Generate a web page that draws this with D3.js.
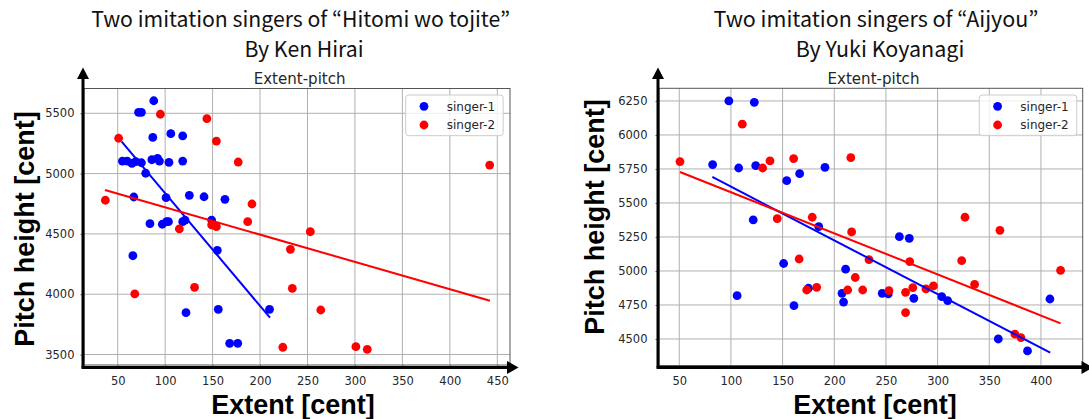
<!DOCTYPE html>
<html><head><meta charset="utf-8">
<script src="https://cdn.jsdelivr.net/npm/d3@7"></script>
<style>body{margin:0;background:#fff;} svg{display:block}</style>
</head><body><svg id="chart" width="1089" height="419"></svg>
<script>
// ---------------- data ----------------
const seriesNames = ["singer-1", "singer-2"];
const seriesColors = ["#0000ff", "#ff0000"];

// Left panel: "Hitomi wo tojite"
const titleL = ["Two imitation singers of \u201cHitomi wo tojite\u201d", "By Ken Hirai"];
const xTicksL = [50, 100, 150, 200, 250, 300, 350, 400, 450];
const yTicksL = [3500, 4000, 4500, 5000, 5500];
const s1ExtentL = [88, 72, 75, 87, 106, 118.5, 55, 60, 65, 69, 75, 86, 92, 94, 104, 118.5, 79.5, 67, 101, 125.5, 141, 163, 84, 97, 101.5, 103.5, 118.5, 121, 149, 155, 66, 122, 156, 210, 168, 176.5];
const s1PitchL  = [5604, 5508, 5508, 5300, 5331, 5312, 5104, 5104, 5085, 5100, 5090, 5115, 5126, 5104, 5093, 5104, 5003, 4806, 4800, 4820, 4808, 4787, 4585, 4580, 4601, 4601, 4601, 4615, 4615, 4364, 4319, 3847, 3875, 3875, 3593, 3593];
const s2ExtentL = [95, 51, 144, 154, 177, 37, 191.5, 187, 115, 149, 154, 232, 131, 68, 234, 224, 253, 264, 301, 313, 442];
const s2PitchL  = [5492, 5293, 5455, 5270, 5096, 4779, 4748, 4601, 4541, 4574, 4560, 4372, 4057, 4002, 4049, 3560, 4518, 3869, 3565, 3543, 5071];
const fit1ExtentL = [54.2, 210.5], fit1PitchL = [5265, 3805];
const fit2ExtentL = [36.6, 442.3], fit2PitchL = [4864, 3946];

// Right panel: "Aijyou"
const titleR = ["Two imitation singers of \u201cAijyou\u201d", "By Yuki Koyanagi"];
const xTicksR = [50, 100, 150, 200, 250, 300, 350, 400];
const yTicksR = [4500, 4750, 5000, 5250, 5500, 5750, 6000, 6250];
const s1ExtentR = [98, 122.6, 82.3, 107.5, 124, 154, 166.5, 191, 121.6, 185, 151, 106, 161, 175, 211, 207.5, 209, 263, 272.6, 246.4, 252.2, 277, 304, 309.7, 358.7, 387, 408.7];
const s1PitchR  = [6250, 6240, 5782, 5757, 5774, 5664, 5715, 5762, 5375, 5326, 5055, 4818, 4745, 4873, 5013, 4836, 4771, 5252, 5240, 4836, 4831, 4799, 4811, 4782, 4500, 4412, 4794];
const s2ExtentR = [50.7, 111, 130.7, 137.8, 160.7, 216, 144.8, 178.7, 216.8, 166, 173.3, 183, 213, 220.3, 227.5, 233.6, 252.9, 269, 269, 273, 276, 288.7, 296, 326.5, 323.3, 335.8, 360.3, 374.8, 380.6, 419];
const s2PitchR  = [5804, 6079, 5757, 5809, 5826, 5833, 5385, 5395, 5287, 5088, 4860, 4880, 4860, 4952, 4860, 5083, 4855, 4843, 4694, 5069, 4877, 4868, 4890, 5395, 5076, 4902, 5299, 4535, 4510, 5005];
const fit1ExtentR = [82, 409], fit1PitchR = [5691, 4399];
const fit2ExtentR = [50.7, 419], fit2PitchR = [5728, 4615];

const subTitle = "Extent-pitch";
const xLabel = "Extent [cent]";
const yLabel = "Pitch height [cent]";

// ---------------- drawing ----------------
const svg = d3.select("#chart");
svg.append("rect").attr("width", 1089).attr("height", 419).attr("fill", "#fff");

function fitWidth(sel, target) {
  const w = sel.node().getComputedTextLength();
  const fs = parseFloat(sel.attr("font-size"));
  sel.attr("font-size", fs * target / w);
  return fs * target / w;
}

function panel(o) {
  const g = svg.append("g");
  const x = d3.scaleLinear().domain(o.xDomain).range([o.L, o.R]);
  const y = d3.scaleLinear().domain(o.yDomain).range([o.B, o.T]);

  // grid
  g.append("g").selectAll("line").data(o.xTicks).join("line")
    .attr("x1", d => x(d)).attr("x2", d => x(d)).attr("y1", o.T).attr("y2", o.B)
    .attr("stroke", "#b0b0b0").attr("stroke-width", 1);
  g.append("g").selectAll("line").data(o.yTicks).join("line")
    .attr("x1", o.L).attr("x2", o.R).attr("y1", d => y(d)).attr("y2", d => y(d))
    .attr("stroke", "#b0b0b0").attr("stroke-width", 1);

  // frame
  g.append("rect").attr("x", o.L).attr("y", o.T).attr("width", o.R - o.L).attr("height", o.B - o.T)
    .attr("fill", "none").attr("stroke", "#555").attr("stroke-width", 1);

  // axes
  const ax = g.append("g").attr("transform", `translate(0,${o.B})`)
    .call(d3.axisBottom(x).tickValues(o.xTicks).tickSize(3.5).tickPadding(8).tickFormat(d3.format("d")));
  const ay = g.append("g").attr("transform", `translate(${o.L},0)`)
    .call(d3.axisLeft(y).tickValues(o.yTicks).tickSize(3.5).tickPadding(o.yPad).tickFormat(d3.format("d")));
  [ax, ay].forEach(a => {
    a.select(".domain").remove();
    a.selectAll(".tick line").attr("stroke", "#555");
    a.selectAll("text").attr("font-family", "DejaVu Sans").attr("font-size", 11.5).attr("fill", "#262626");
  });

  // scatter
  o.series.forEach((s, i) => {
    g.append("g").selectAll("circle").data(s.ex.map((v, k) => [v, s.py[k]])).join("circle")
      .attr("cx", d => x(d[0])).attr("cy", d => y(d[1])).attr("r", 4.4)
      .attr("fill", seriesColors[i]);
  });
  // fit lines
  o.fits.forEach((f, i) => {
    g.append("line")
      .attr("x1", x(f.ex[0])).attr("y1", y(f.py[0])).attr("x2", x(f.ex[1])).attr("y2", y(f.py[1]))
      .attr("stroke", seriesColors[i]).attr("stroke-width", 2);
  });

  // arrows
  const ak = o.arrow;
  g.append("line").attr("x1", ak.x0).attr("y1", ak.y0).attr("x2", ak.x0).attr("y2", 78)
    .attr("stroke", "#000").attr("stroke-width", 3);
  g.append("path").attr("d", `M${ak.x0 - 6},79 L${ak.x0},67.5 L${ak.x0 + 6},79 Z`).attr("fill", "#000");
  g.append("line").attr("x1", ak.x0 - 1.5).attr("y1", ak.y0).attr("x2", ak.xTip - 10).attr("y2", ak.y0)
    .attr("stroke", "#000").attr("stroke-width", 3);
  g.append("path").attr("d", `M${ak.xTip - 11.5},${ak.y0 - 6.5} L${ak.xTip},${ak.y0} L${ak.xTip - 11.5},${ak.y0 + 6.5} Z`).attr("fill", "#000");

  // legend
  const lg = g.append("g");
  lg.append("rect").attr("x", o.leg.x).attr("y", 95).attr("width", 97.5).attr("height", 40.7)
    .attr("rx", 3).attr("fill", "#fff").attr("fill-opacity", 0.8).attr("stroke", "#cccccc").attr("stroke-width", 1);
  seriesNames.forEach((n, i) => {
    lg.append("circle").attr("cx", o.leg.x + 18.3).attr("cy", 106.3 + i * 18.7).attr("r", 4.4).attr("fill", seriesColors[i]);
    lg.append("text").attr("x", o.leg.x + 41).attr("y", 106.3 + i * 18.7 + 4.3)
      .attr("font-family", "DejaVu Sans").attr("font-size", 12).attr("fill", "#262626").text(n);
  });

  // titles
  const t1 = g.append("text").attr("x", o.t1x).attr("y", 27).attr("text-anchor", "middle")
    .attr("font-family", "Noto Sans CJK JP").attr("font-size", 20).attr("fill", "#111").text(o.title[0]);
  fitWidth(t1, o.t1w);
  const fs = t1.attr("font-size");
  g.append("text").attr("x", o.t2x).attr("y", 57).attr("text-anchor", "middle")
    .attr("font-family", "Noto Sans CJK JP").attr("font-size", fs).attr("fill", "#111").text(o.title[1]);
  const st = g.append("text").attr("x", o.stx).attr("y", 84).attr("text-anchor", "middle")
    .attr("font-family", "DejaVu Sans").attr("font-size", 14).attr("fill", "#262626").text(subTitle);
  fitWidth(st, 92);

  // axis labels
  g.append("text").attr("x", o.xlx).attr("y", 414).attr("text-anchor", "middle")
    .attr("font-family", "Liberation Sans").attr("font-weight", "bold").attr("font-size", 27).attr("fill", "#000").text(xLabel);
  g.append("text").attr("transform", `translate(${o.ylx},${o.yly}) rotate(-90)`).attr("text-anchor", "middle")
    .attr("font-family", "Liberation Sans").attr("font-weight", "bold").attr("font-size", 27).attr("fill", "#000").text(yLabel);
}

panel({
  L: 84, R: 510, T: 88.5, B: 365,
  xDomain: [14.5, 463.4], yDomain: [3413, 5705.6],
  xTicks: xTicksL, yTicks: yTicksL, yPad: 6,
  series: [{ex: s1ExtentL, py: s1PitchL}, {ex: s2ExtentL, py: s2PitchL}],
  fits: [{ex: fit1ExtentL, py: fit1PitchL}, {ex: fit2ExtentL, py: fit2PitchL}],
  arrow: {x0: 83, y0: 367.5, xTip: 518.5},
  leg: {x: 405.7},
  title: titleL, t1x: 300.7, t1w: 419, t2x: 304, stx: 299.6,
  xlx: 293, ylx: 33.5, yly: 229
});
panel({
  L: 659, R: 1082.7, T: 88.3, B: 365.5,
  xDomain: [30.4, 440.4], yDomain: [4305, 6343],
  xTicks: xTicksR, yTicks: yTicksR, yPad: 8,
  series: [{ex: s1ExtentR, py: s1PitchR}, {ex: s2ExtentR, py: s2PitchR}],
  fits: [{ex: fit1ExtentR, py: fit1PitchR}, {ex: fit2ExtentR, py: fit2PitchR}],
  arrow: {x0: 658, y0: 367.5, xTip: 1093},
  leg: {x: 979.3},
  title: titleR, t1x: 876, t1w: 325, t2x: 880, stx: 873.5,
  xlx: 875, ylx: 603.5, yly: 217
});
</script>
</body></html>
